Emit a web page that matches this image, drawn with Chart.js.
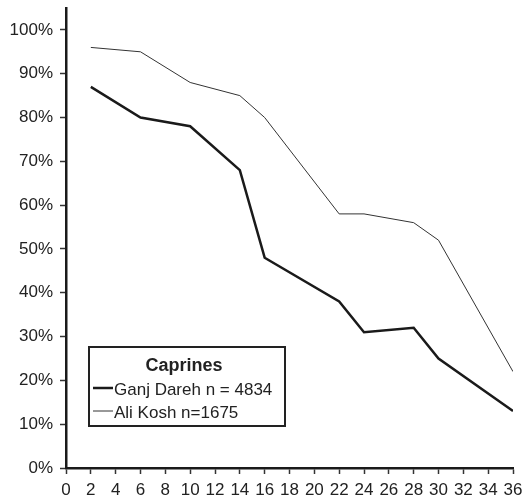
<!DOCTYPE html>
<html>
<head>
<meta charset="utf-8">
<script src="https://cdn.jsdelivr.net/npm/chart.js@4/dist/chart.umd.min.js"></script>
<style>
  html, body { margin: 0; padding: 0; background: #fff; }
  #wrap { width: 523px; height: 499px; }
</style>
</head>
<body>
<div id="wrap"><canvas id="c" width="523" height="499"></canvas></div>
<script>
// Survival curves for caprines at two sites (age vs. % surviving)
const ages = [2, 6, 10, 14, 16, 22, 24, 28, 30, 36];
const ganjDareh = [87, 80, 78, 68, 48, 38, 31, 32, 25, 13];
const aliKosh = [96, 95, 88, 85, 80, 58, 58, 56, 52, 22];
const seriesLabels = ['Ganj Dareh n = 4834', 'Ali Kosh n=1675'];
const legendTitle = 'Caprines';
const xTicks = [0, 2, 4, 6, 8, 10, 12, 14, 16, 18, 20, 22, 24, 26, 28, 30, 32, 34, 36];
const yTicks = [0, 10, 20, 30, 40, 50, 60, 70, 80, 90, 100];

const FONT = '"Liberation Sans", Arial, sans-serif';
const INK = '#222';

const toPoints = vals => ages.map((a, i) => ({ x: a, y: vals[i] }));

// Boxed legend drawn inside the plot area
const boxLegend = {
  id: 'boxLegend',
  afterDraw(chart) {
    const ctx = chart.ctx;
    const ca = chart.chartArea;
    const x0 = ca.left + 23, y0 = ca.bottom - 121, w = 196, h = 79;
    ctx.save();
    ctx.strokeStyle = '#222';
    ctx.lineWidth = 2;
    ctx.fillStyle = '#fff';
    ctx.fillRect(x0, y0, w, h);
    ctx.strokeRect(x0, y0, w, h);
    ctx.fillStyle = INK;
    ctx.textBaseline = 'alphabetic';
    ctx.textAlign = 'center';
    ctx.font = 'bold 18px ' + FONT;
    ctx.fillText(legendTitle, x0 + w / 2 - 3, y0 + 24);
    ctx.textAlign = 'left';
    ctx.font = '17px ' + FONT;
    chart.data.datasets.forEach((ds, i) => {
      const ly = y0 + 41 + i * 23;
      ctx.strokeStyle = ds.borderColor;
      ctx.lineWidth = ds.borderWidth;
      ctx.beginPath();
      ctx.moveTo(x0 + 4, ly);
      ctx.lineTo(x0 + 24, ly);
      ctx.stroke();
      ctx.fillStyle = INK;
      ctx.fillText(ds.label, x0 + 25, ly + 7);
    });
    ctx.restore();
  }
};

new Chart(document.getElementById('c'), {
  type: 'line',
  data: {
    datasets: [
      {
        label: seriesLabels[0],
        data: toPoints(ganjDareh),
        borderColor: '#1a1a1a',
        borderWidth: 2.5,
        pointRadius: 0,
        tension: 0,
        fill: false
      },
      {
        label: seriesLabels[1],
        data: toPoints(aliKosh),
        borderColor: '#333',
        borderWidth: 1,
        pointRadius: 0,
        tension: 0,
        fill: false
      }
    ]
  },
  options: {
    responsive: false,
    animation: false,
    layout: { padding: { top: 8, right: 10, left: 0, bottom: 0 } },
    plugins: {
      legend: { display: false },
      tooltip: { enabled: false }
    },
    scales: {
      x: {
        type: 'linear',
        min: 0,
        max: 36,
        afterBuildTicks: s => { s.ticks = xTicks.map(v => ({ value: v })); },
        afterFit: s => { s.height = 31; s.paddingLeft = 0; s.paddingRight = 0; },
        ticks: {
          autoSkip: false,
          maxRotation: 0,
          padding: 6,
          color: INK,
          font: { family: FONT, size: 17 }
        },
        grid: {
          drawOnChartArea: false,
          drawTicks: true,
          tickLength: 6,
          tickWidth: 1.5,
          tickColor: '#333'
        },
        border: { display: true, color: '#1a1a1a', width: 2.5 }
      },
      y: {
        type: 'linear',
        min: 0,
        max: 105,
        afterBuildTicks: s => { s.ticks = yTicks.map(v => ({ value: v })); },
        afterFit: s => { s.width = 66; s.paddingTop = 0; s.paddingBottom = 0; },
        ticks: {
          autoSkip: false,
          padding: 7,
          color: INK,
          font: { family: FONT, size: 17 },
          callback: v => v + '%'
        },
        grid: {
          drawOnChartArea: false,
          drawTicks: true,
          tickLength: 6,
          tickWidth: 1.5,
          tickColor: '#333'
        },
        border: { display: true, color: '#1a1a1a', width: 2.5 }
      }
    }
  },
  plugins: [boxLegend]
});
</script>
</body>
</html>
